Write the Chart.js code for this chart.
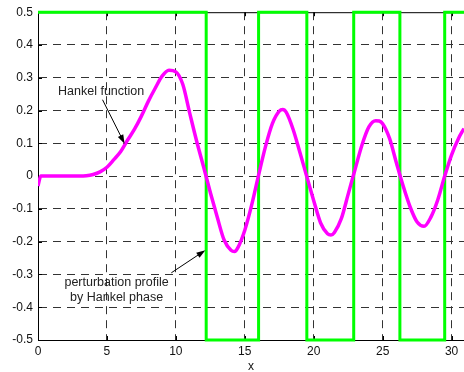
<!DOCTYPE html>
<html><head><meta charset="utf-8">
<script src="https://cdn.jsdelivr.net/npm/chart.js@4/dist/chart.umd.min.js"></script>
<style>html,body{margin:0;padding:0;background:#fff;}canvas{display:block;}</style>
</head><body>
<canvas id="c" width="464" height="372"></canvas>
<script>
// ---- data ----
const hankelX = [0, 0.2, 0.5, 1, 2, 3, 3.5, 4, 4.5, 5, 5.5, 6, 6.5, 7, 7.5, 8, 8.5, 9, 9.5, 10, 10.5, 11, 11.5, 12, 12.5, 13, 13.5, 14, 14.25, 14.5, 15, 15.5, 16, 16.5, 17, 17.5, 17.75, 18, 18.5, 19, 19.5, 20, 20.5, 21, 21.25, 21.5, 22, 22.5, 23, 23.5, 24, 24.5, 24.75, 25, 25.5, 26, 26.5, 27, 27.5, 28, 28.5, 29, 29.5, 30, 30.5, 30.9];
const hankelY = [-0.03, 0.0, 0.0, 0.0, 0.0, 0.0, 0.001, 0.005, 0.013, 0.027, 0.05, 0.075, 0.11, 0.143, 0.183, 0.228, 0.268, 0.305, 0.323, 0.318, 0.28, 0.193, 0.108, 0.03, -0.05, -0.125, -0.195, -0.226, -0.23, -0.218, -0.165, -0.088, 0.003, 0.09, 0.16, 0.198, 0.203, 0.195, 0.143, 0.072, -0.002, -0.075, -0.143, -0.176, -0.18, -0.172, -0.13, -0.055, 0.021, 0.095, 0.15, 0.169, 0.168, 0.16, 0.115, 0.04, -0.032, -0.095, -0.14, -0.153, -0.125, -0.072, 0.0, 0.065, 0.115, 0.145];
const profileX = [0, 12.2, 16.0, 19.5, 22.9, 26.25, 29.5, 30.9];
const profileY = [0.5, -0.5, 0.5, -0.5, 0.5, -0.5, 0.5, 0.5];
const xTicks = [0, 5, 10, 15, 20, 25, 30];
const yTicks = [-0.5, -0.4, -0.3, -0.2, -0.1, 0, 0.1, 0.2, 0.3, 0.4, 0.5];
const xRange = [0, 30.9];
const yRange = [-0.5, 0.5];
const labelHankel = {text: ['Hankel function'], at: [4.58, 0.258], from: [4.68, 0.233], to: [6.28, 0.099]};
const labelProfile = {text: ['perturbation profile', 'by Hankel phase'], at: [5.7, -0.348], from: [9.67, -0.295], to: [12.14, -0.226]};

const FONT = "'Liberation Sans', Arial, sans-serif";

const decorPlugin = {
  id: 'decor',
  beforeDatasetsDraw(chart) {
    const {ctx, chartArea: a, scales} = chart;
    ctx.save();
    ctx.strokeStyle = '#000';
    ctx.lineWidth = 1;
    ctx.setLineDash([]);
    ctx.beginPath();
    ctx.moveTo(a.left, a.top + 0.5); ctx.lineTo(a.right, a.top + 0.5);
    ctx.stroke();
    // inward tick marks
    ctx.beginPath();
    xTicks.forEach(v => { const px = Math.round(scales.x.getPixelForValue(v)) + 0.5; ctx.moveTo(px, a.bottom); ctx.lineTo(px, a.bottom - 4); ctx.moveTo(px, a.top); ctx.lineTo(px, a.top + 4); });
    yTicks.forEach(v => { const py = Math.round(scales.y.getPixelForValue(v)) + 0.5; ctx.moveTo(a.left, py); ctx.lineTo(a.left + 4, py); });
    ctx.stroke();
    ctx.restore();
  },
  afterDraw(chart) {
    const {ctx, scales} = chart;
    const X = v => scales.x.getPixelForValue(v), Y = v => scales.y.getPixelForValue(v);
    ctx.save();
    ctx.font = '12.5px ' + FONT;
    ctx.fillStyle = '#222';
    ctx.textAlign = 'center';
    ctx.textBaseline = 'middle';
    [labelHankel, labelProfile].forEach(l => {
      l.text.forEach((t, i) => ctx.fillText(t, X(l.at[0]), Y(l.at[1]) + (i - (l.text.length - 1) / 2) * 15));
      const x1 = X(l.from[0]), y1 = Y(l.from[1]), x2 = X(l.to[0]), y2 = Y(l.to[1]);
      const ang = Math.atan2(y2 - y1, x2 - x1);
      ctx.strokeStyle = '#000'; ctx.lineWidth = 1; ctx.setLineDash([]);
      ctx.beginPath(); ctx.moveTo(x1, y1); ctx.lineTo(x2 - 6 * Math.cos(ang), y2 - 6 * Math.sin(ang)); ctx.stroke();
      ctx.fillStyle = '#000';
      ctx.beginPath();
      ctx.moveTo(x2, y2);
      ctx.lineTo(x2 - 9 * Math.cos(ang) + 3 * Math.sin(ang), y2 - 9 * Math.sin(ang) - 3 * Math.cos(ang));
      ctx.lineTo(x2 - 9 * Math.cos(ang) - 3 * Math.sin(ang), y2 - 9 * Math.sin(ang) + 3 * Math.cos(ang));
      ctx.closePath(); ctx.fill();
      ctx.fillStyle = '#222';
    });
    ctx.restore();
  }
};

const gridColor = (edgeVals) => (c) => (c.tick && edgeVals.includes(c.tick.value)) ? 'rgba(0,0,0,0)' : '#333';

new Chart(document.getElementById('c'), {
  type: 'line',
  data: {
    datasets: [
      {
        label: 'Hankel function',
        data: hankelX.map((x, i) => ({x, y: hankelY[i]})),
        borderColor: '#ff00ff', borderWidth: 3.5, pointRadius: 0,
        cubicInterpolationMode: 'monotone', order: 0
      },
      {
        label: 'perturbation profile',
        data: profileX.map((x, i) => ({x, y: profileY[i]})),
        borderColor: '#00ff00', borderWidth: 3, pointRadius: 0,
        stepped: true, clip: false, order: 1
      }
    ]
  },
  options: {
    responsive: false, animation: false, devicePixelRatio: 1,
    layout: {padding: {top: 12, left: 0, right: 0, bottom: 0}},
    plugins: {legend: {display: false}, tooltip: {enabled: false}},
    scales: {
      x: {
        type: 'linear', min: xRange[0], max: xRange[1],
        afterBuildTicks: s => { s.ticks = xTicks.map(v => ({value: v})); },
        afterFit: s => { s.height = 32; },
        ticks: {font: {family: FONT, size: 12}, color: '#111', padding: 4, maxRotation: 0, autoSkip: false},
        grid: {color: gridColor([xRange[0]]), lineWidth: 1, drawTicks: false},
        border: {display: true, color: '#000', width: 1, dash: [8, 6]},
        title: {display: true, text: 'x', font: {family: FONT, size: 12, lineHeight: 0.9}, color: '#111', padding: {top: 0, bottom: 0}}
      },
      y: {
        type: 'linear', min: yRange[0], max: yRange[1],
        afterBuildTicks: s => { s.ticks = yTicks.map(v => ({value: v})); },
        afterFit: s => { s.width = 38; },
        ticks: {font: {family: FONT, size: 12}, color: '#111', padding: 5,
          callback: v => (Math.abs(v) < 1e-9 ? '0' : v.toFixed(1))},
        grid: {color: gridColor(yRange), lineWidth: 1, drawTicks: false},
        border: {display: true, color: '#000', width: 1, dash: [8, 6]}
      }
    }
  },
  plugins: [decorPlugin]
});
</script>
</body></html>
